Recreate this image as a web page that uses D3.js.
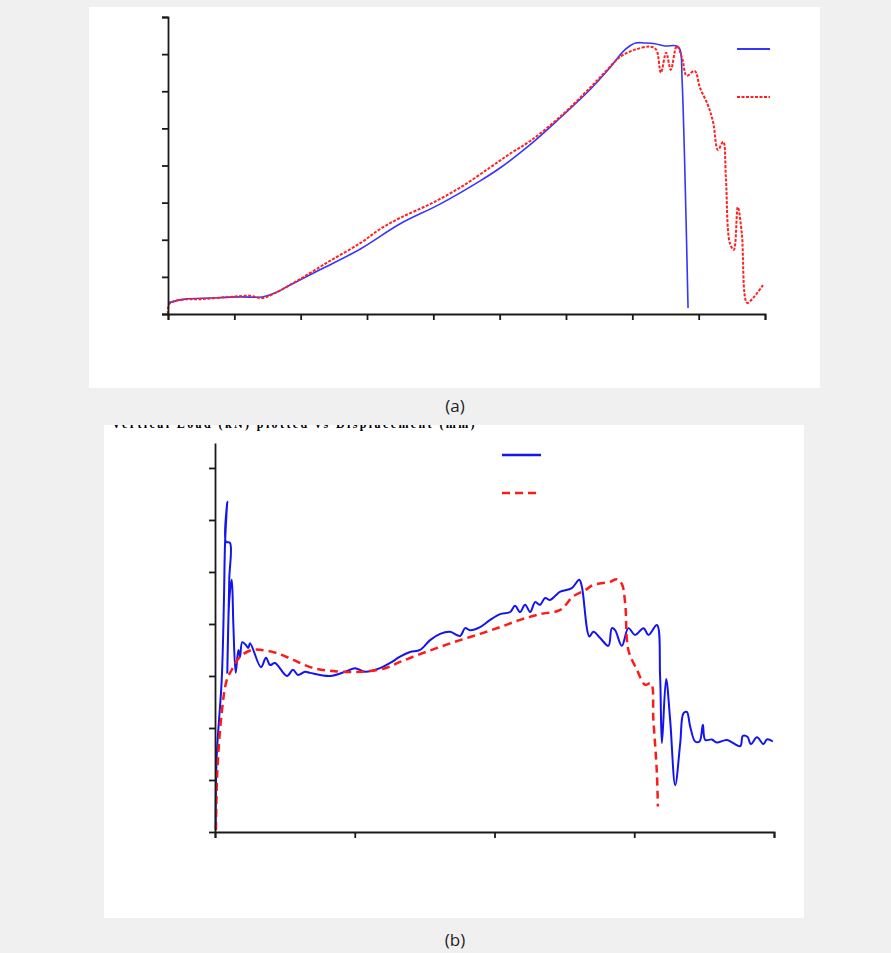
<!DOCTYPE html>
<html>
<head>
<meta charset="utf-8">
<script src="https://cdn.jsdelivr.net/npm/d3@7"></script>
<style>
  body { margin: 0; background: #f0f0f0; }
  svg { display: block; }
  .axis path, .axis line { stroke: #1a1a1a; stroke-width: 1.8; }
</style>
</head>
<body>
<div id="chart"></div>
<script>
// ---- data ----
// panel (a): x ticks 0..9, y ticks 0..8
const ticksAX = d3.range(0, 10);
const ticksAY = d3.range(0, 9);
const seriesA1 = [ // solid blue
  [0.00,0.30],[0.26,0.40],[0.64,0.43],[1.09,0.46],[1.42,0.46],[1.62,0.57],[1.84,0.78],
  [2.29,1.19],[2.90,1.75],[3.50,2.43],[4.10,2.96],[4.70,3.58],[5.01,3.94],[5.46,4.56],
  [5.91,5.28],[6.36,6.04],[6.66,6.63],[6.89,7.12],[7.05,7.30],[7.19,7.30],[7.34,7.28],
  [7.49,7.22],[7.67,7.22],[7.72,7.12],[7.75,6.31],[7.84,0.16]
];
const seriesA2 = [ // dashed red
  [0.00,0.00],[0.02,0.27],[0.18,0.38],[0.49,0.40],[0.94,0.46],[1.24,0.49],[1.42,0.43],
  [1.62,0.57],[1.99,0.94],[2.44,1.43],[2.90,1.91],[3.20,2.29],[3.50,2.59],[3.95,2.96],
  [4.40,3.40],[4.85,3.94],[5.15,4.31],[5.46,4.66],[5.91,5.31],[6.36,6.09],[6.59,6.52],
  [6.82,6.93],[7.04,7.12],[7.27,7.20],[7.36,7.12],[7.43,6.50],[7.51,7.04],[7.58,6.58],
  [7.67,7.22],[7.75,6.90],[7.82,6.42],[7.94,6.55],[8.02,6.09],[8.14,5.63],[8.22,5.15],
  [8.29,4.42],[8.37,4.64],[8.41,3.69],[8.47,1.91],[8.53,1.73],[8.59,2.88],[8.65,2.18],
  [8.73,0.30],[8.82,0.43],[8.97,0.78]
];

// panel (b): x ticks 0..4, y ticks 0..7
const ticksBX = d3.range(0, 5);
const ticksBY = d3.range(0, 8);
const seriesB1 = [ // solid blue
  [0.005,0.04],[0.012,1.44],[0.048,2.92],[0.064,4.46],[0.072,5.56],[0.088,6.35],[0.079,5.58],
  [0.107,5.56],[0.102,4.85],[0.088,3.06],[0.102,4.46],[0.120,4.85],[0.131,4.02],[0.148,3.06],
  [0.167,3.50],[0.179,3.37],[0.195,3.65],[0.220,3.60],[0.238,3.54],[0.251,3.63],[0.329,3.17],
  [0.365,3.35],[0.394,3.21],[0.429,3.25],[0.515,3.00],[0.558,3.12],[0.594,3.02],[0.644,3.08],
  [0.680,3.06],[0.823,3.00],[0.931,3.08],[1.002,3.15],[1.074,3.08],[1.181,3.15],[1.253,3.25],
  [1.324,3.37],[1.396,3.46],[1.467,3.50],[1.539,3.69],[1.611,3.81],[1.682,3.85],[1.754,3.77],
  [1.790,3.92],[1.825,3.88],[1.897,3.94],[1.969,4.08],[2.040,4.19],[2.112,4.23],[2.147,4.35],
  [2.183,4.23],[2.219,4.37],[2.255,4.23],[2.291,4.42],[2.326,4.37],[2.362,4.50],[2.398,4.46],
  [2.434,4.54],[2.470,4.62],[2.553,4.69],[2.606,4.85],[2.625,4.72],[2.679,3.76],[2.708,3.85],
  [2.756,3.73],[2.815,3.58],[2.840,3.92],[2.863,3.88],[2.911,3.58],[2.958,3.92],[3.006,3.79],
  [3.066,3.92],[3.102,3.79],[3.162,3.98],[3.185,2.99],[3.198,1.71],[3.228,2.94],[3.257,2.15],
  [3.293,0.90],[3.329,1.71],[3.352,2.28],[3.376,2.31],[3.400,2.03],[3.436,1.74],[3.467,1.74],
  [3.491,2.06],[3.508,1.77],[3.555,1.78],[3.591,1.72],[3.663,1.77],[3.758,1.65],[3.777,1.85],
  [3.810,1.83],[3.835,1.69],[3.878,1.82],[3.925,1.69],[3.949,1.78],[3.992,1.74]
];
const seriesB2 = [ // dashed red
  [0.007,0.04],[0.016,1.13],[0.048,2.29],[0.084,2.92],[0.120,3.12],[0.179,3.37],[0.263,3.50],
  [0.334,3.50],[0.442,3.44],[0.560,3.31],[0.680,3.17],[0.823,3.10],[1.038,3.08],[1.217,3.15],
  [1.324,3.27],[1.467,3.42],[1.611,3.56],[1.754,3.69],[1.897,3.81],[2.040,3.94],[2.183,4.08],
  [2.326,4.19],[2.470,4.27],[2.563,4.53],[2.649,4.65],[2.706,4.75],[2.827,4.81],[2.875,4.86],
  [2.911,4.77],[2.935,4.40],[2.958,3.50],[3.019,3.12],[3.078,2.83],[3.119,2.86],[3.137,2.15],
  [3.162,1.13],[3.169,0.49]
];

const W = 891, H = 953;
const svg = d3.select("#chart").append("svg").attr("width", W).attr("height", H);

// Draw one panel: white card, axes, lines, legend swatches
function drawPanel(cfg) {
  svg.append("rect")
    .attr("x", cfg.card[0]).attr("y", cfg.card[1])
    .attr("width", cfg.card[2]).attr("height", cfg.card[3])
    .attr("fill", "#fff");

  const x = d3.scaleLinear().domain(cfg.xDomain).range(cfg.xRange);
  const y = d3.scaleLinear().domain(cfg.yDomain).range(cfg.yRange);

  const line = d3.line()
    .x(d => x(d[0]))
    .y(d => y(d[1]))
    .curve(d3.curveCatmullRom.alpha(0.5));

  cfg.series.forEach(s => {
    svg.append("path")
      .datum(s.data)
      .attr("fill", "none")
      .attr("stroke", s.color)
      .attr("stroke-width", s.width)
      .attr("stroke-dasharray", s.dash)
      .attr("stroke-linejoin", "round")
      .attr("d", line);
  });

  svg.append("g")
    .attr("class", "axis")
    .attr("transform", `translate(0,${cfg.yRange[0]})`)
    .call(d3.axisBottom(x).tickValues(cfg.xTicks).tickFormat("").tickSizeInner(6).tickSizeOuter(6));

  svg.append("g")
    .attr("class", "axis")
    .attr("transform", `translate(${cfg.xRange[0]},0)`)
    .call(d3.axisLeft(y).tickValues(cfg.yTicks).tickFormat("").tickSizeInner(6).tickSizeOuter(cfg.yOuter));

  // legend swatches (no text in the reference)
  cfg.series.forEach((s, i) => {
    const lg = cfg.legend[i];
    svg.append("line")
      .attr("x1", lg[0]).attr("x2", lg[1])
      .attr("y1", lg[2]).attr("y2", lg[2])
      .attr("stroke", s.color)
      .attr("stroke-width", s.legendWidth)
      .attr("stroke-dasharray", s.dash);
  });

  svg.append("text")
    .attr("x", cfg.label[0]).attr("y", cfg.label[1])
    .attr("text-anchor", "middle")
    .style("font-family", "'Open Sans', 'Noto Sans', sans-serif")
    .style("font-size", "17px")
    .attr("fill", "#222")
    .text(cfg.labelText);
}

drawPanel({
  card: [89, 7, 731, 381],
  xDomain: [0, 9], xRange: [168, 765],
  yDomain: [0, 8], yRange: [314, 17],
  xTicks: ticksAX, yTicks: ticksAY, yOuter: 6,
  series: [
    { data: seriesA1, color: "#3535ff", width: 1.6, dash: null, legendWidth: 2 },
    { data: seriesA2, color: "#ff2020", width: 2, dash: "3,1.5", legendWidth: 2 }
  ],
  legend: [[737, 770, 49], [737, 770, 97]],
  label: [455, 412], labelText: "(a)"
});

// cut-off heading peeking in at the top of panel (b)
svg.append("clipPath").attr("id", "clipB")
  .append("rect").attr("x", 104).attr("y", 425).attr("width", 700).attr("height", 493);

drawPanel({
  card: [104, 425, 700, 493],
  xDomain: [0, 4], xRange: [215, 774],
  yDomain: [0, 7.48], yRange: [832, 443],
  xTicks: ticksBX, yTicks: ticksBY, yOuter: 0,
  series: [
    { data: seriesB1, color: "#1414f0", width: 2, dash: null, legendWidth: 2.5 },
    { data: seriesB2, color: "#ff1a1a", width: 2.5, dash: "8,5", legendWidth: 2.5 }
  ],
  legend: [[502, 541, 455], [502, 536, 493]],
  label: [455, 946], labelText: "(b)"
});

svg.append("text")
  .attr("clip-path", "url(#clipB)")
  .attr("x", 112).attr("y", 427.5)
  .style("font-family", "'Liberation Serif', serif")
  .style("font-weight", "bold")
  .style("font-size", "12px")
  .style("letter-spacing", "2.4px")
  .attr("fill", "#000")
  .text("Vertical Load (kN) plotted vs Displacement (mm)");
</script>
</body>
</html>
